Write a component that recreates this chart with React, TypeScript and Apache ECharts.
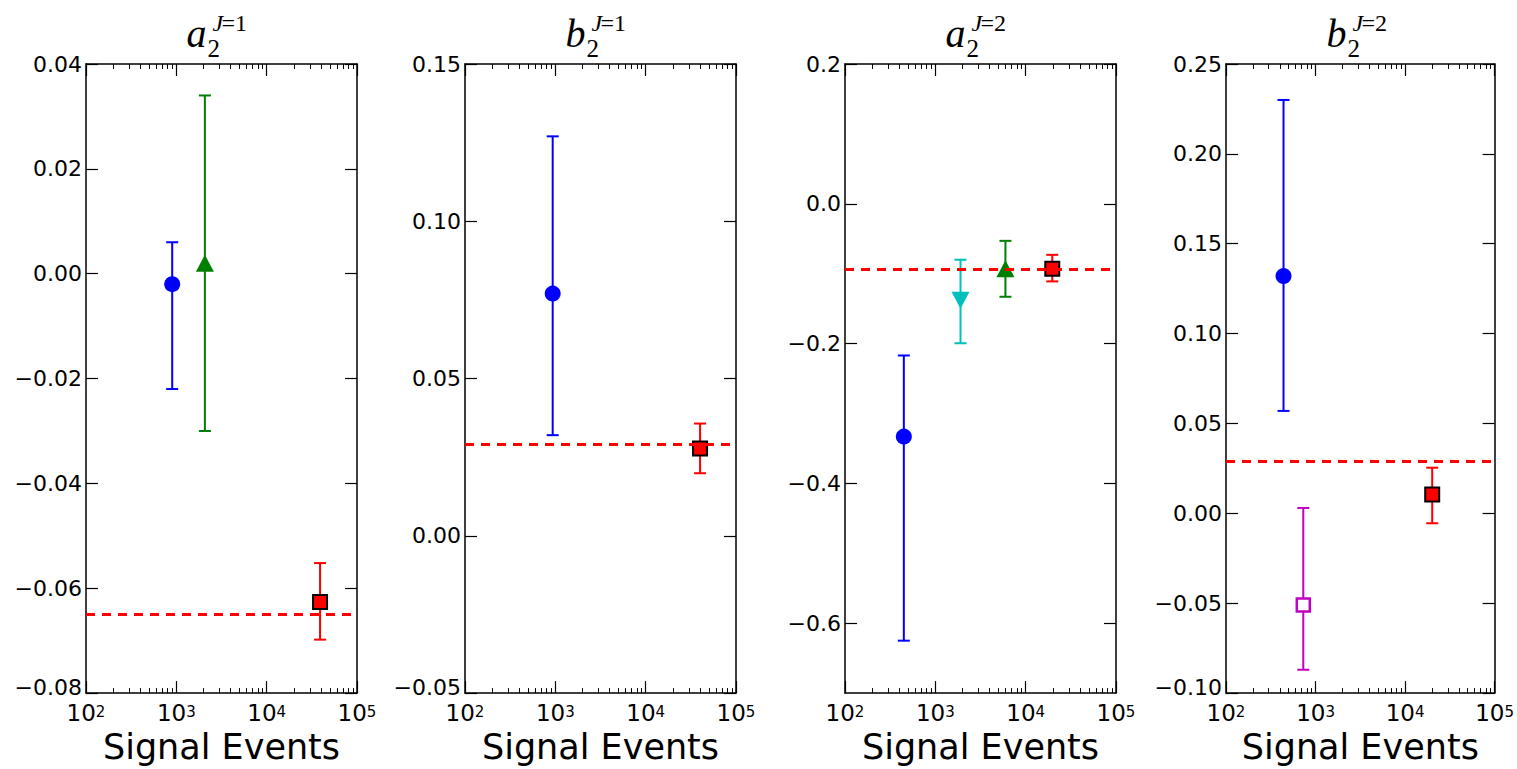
import React, { useEffect, useRef } from 'react';
import * as echarts from 'echarts';

// ---------------- data ----------------
const xMin = 100;
const xMax = 100000;

// panel 1: a2 (J=1)
const p1Events = [900, 2070, 39000];
const p1Values = [-0.002, 0.002, -0.0626];
const p1Lower = [-0.022, -0.030, -0.0698];
const p1Upper = [0.006, 0.034, -0.0552];
const p1Kinds = ['blue', 'green', 'red'];
const p1Ref = -0.065;

// panel 2: b2 (J=1)
const p2Events = [935, 40000];
const p2Values = [0.077, 0.0278];
const p2Lower = [0.032, 0.0199];
const p2Upper = [0.127, 0.0357];
const p2Kinds = ['blue', 'red'];
const p2Ref = 0.029;

// panel 3: a2 (J=2)
const p3Events = [448, 1900, 5970, 19700];
const p3Values = [-0.333, -0.138, -0.093, -0.093];
const p3Lower = [-0.625, -0.1995, -0.133, -0.111];
const p3Upper = [-0.217, -0.080, -0.053, -0.073];
const p3Kinds = ['blue', 'cyan', 'green', 'red'];
const p3Ref = -0.094;

// panel 4: b2 (J=2)
const p4Events = [439, 730, 20100];
const p4Values = [0.132, -0.051, 0.0105];
const p4Lower = [0.057, -0.087, -0.0055];
const p4Upper = [0.23, 0.003, 0.0254];
const p4Kinds = ['blue', 'magenta', 'red'];
const p4Ref = 0.029;

// axis settings
const yMins = [-0.08, -0.05, -0.7, -0.1];
const yMaxs = [0.04, 0.15, 0.2, 0.25];
const yIntervals = [0.02, 0.05, 0.2, 0.05];
const yDecimals = [2, 2, 1, 2];
const p3YTicks = [-0.6, -0.4, -0.2, 0.0, 0.2];
const titleBases = ['a', 'b', 'a', 'b'];
const titleSups = ['1', '1', '2', '2'];
const xName = 'Signal Events';

// ---------------- styles ----------------
const FONT = "'DejaVu Sans', sans-serif";
const SERIF = "'Liberation Serif', 'DejaVu Serif', serif";
const panelLefts = [86, 465, 845, 1226];
const panelWidth = 271;
const panelTop = 64;
const panelHeight = 633;

const kindStyle: Record<string, any> = {
  blue: { color: '#0000ff', symbol: 'circle', size: 16, rotate: 0, fill: '#0000ff', border: '#0000ff', bw: 0 },
  green: { color: '#008000', symbol: 'triangle', size: [18, 17], rotate: 0, fill: '#008000', border: '#008000', bw: 0 },
  red: { color: '#ff0000', symbol: 'rect', size: 14, rotate: 0, fill: '#ff0000', border: '#000000', bw: 2 },
  cyan: { color: '#00bfbf', symbol: 'triangle', size: [18, 17], rotate: 180, fill: '#00bfbf', border: '#00bfbf', bw: 0 },
  magenta: { color: '#bf00bf', symbol: 'rect', size: 13, rotate: 0, fill: '#ffffff', border: '#bf00bf', bw: 2.5 },
};

const panels = [
  { events: p1Events, values: p1Values, lower: p1Lower, upper: p1Upper, kinds: p1Kinds, ref: p1Ref },
  { events: p2Events, values: p2Values, lower: p2Lower, upper: p2Upper, kinds: p2Kinds, ref: p2Ref },
  { events: p3Events, values: p3Values, lower: p3Lower, upper: p3Upper, kinds: p3Kinds, ref: p3Ref },
  { events: p4Events, values: p4Values, lower: p4Lower, upper: p4Upper, kinds: p4Kinds, ref: p4Ref },
];

const minorLogTicks: number[] = [];
for (let n = 2; n < 5; n++) {
  for (let k = 2; k <= 9; k++) minorLogTicks.push(n + Math.log10(k));
}

const fmtY = (v: number, d: number) => {
  const s = Math.abs(v) < 1e-9 ? (0).toFixed(d) : v.toFixed(d);
  return s.replace('-', '\u2212');
};

function buildOption() {
  const grid: any[] = [];
  const xAxis: any[] = [];
  const yAxis: any[] = [];
  const series: any[] = [];
  const graphic: any[] = [];

  panels.forEach((p, i) => {
    grid.push({ left: panelLefts[i], top: panelTop, width: panelWidth, height: panelHeight, containLabel: false });

    const lineStyle = { color: '#000', width: 1.5 };
    xAxis.push({
      type: 'log', gridIndex: i, position: 'bottom', min: xMin, max: xMax, logBase: 10,
      axisLine: { show: true, onZero: false, lineStyle },
      axisTick: { show: true, inside: true, length: 12, lineStyle: { color: '#000', width: 1.2 } },
      splitLine: { show: false }, minorTick: { show: false },
      axisLabel: {
        show: true, margin: 11,
        formatter: (v: number) => `{b|10}{s|${Math.round(Math.log10(v))}}`,
        rich: {
          b: { fontSize: 23, fontFamily: FONT, color: '#000', lineHeight: 20, verticalAlign: 'bottom' },
          s: { fontSize: 15, fontFamily: FONT, color: '#000', lineHeight: 10, verticalAlign: 'top' },
        },
      },
      name: xName, nameLocation: 'middle', nameGap: 28,
      nameTextStyle: { fontSize: 35, fontFamily: FONT, color: '#000' },
    });
    xAxis.push({
      type: 'log', gridIndex: i, position: 'top', min: xMin, max: xMax, logBase: 10,
      axisLine: { show: true, onZero: false, lineStyle },
      axisTick: { show: true, inside: true, length: 12, lineStyle: { color: '#000', width: 1.2 } },
      splitLine: { show: false }, axisLabel: { show: false },
    });
    ['bottom', 'top'].forEach((pos) => {
      xAxis.push({
        type: 'value', gridIndex: i, position: pos, min: 2, max: 5,
        axisLine: { show: false, onZero: false },
        axisTick: { show: true, inside: true, length: 5, customValues: minorLogTicks, lineStyle: { color: '#000', width: 1 } },
        splitLine: { show: false }, axisLabel: { show: false },
      });
    });

    const isCustom = i === 2;
    const yLo = yMins[i];
    const leftY: any = {
      type: 'value', gridIndex: i, position: 'left', min: yMins[i], max: yMaxs[i],
      axisLine: { show: true, onZero: false, lineStyle },
      axisTick: { show: true, inside: true, length: 12, lineStyle: { color: '#000', width: 1.2 } },
      splitLine: { show: false },
      axisLabel: {
        show: true, margin: 4, fontSize: 22, lineHeight: 16, fontFamily: FONT, color: '#000',
        formatter: (v: number) => {
          const t = fmtY(v, yDecimals[i]);
          return Math.abs(v - yLo) < 1e-9 ? `{low|${t}}` : `{n|${t}}`;
        },
        rich: {
          n: { fontSize: 22, lineHeight: 16, fontFamily: FONT, color: '#000' },
          low: { fontSize: 22, lineHeight: 16, fontFamily: FONT, color: '#000', padding: [0, 0, 12, 0] },
        },
      },
    };
    const rightY: any = {
      type: 'value', gridIndex: i, position: 'right', min: yMins[i], max: yMaxs[i],
      axisLine: { show: true, onZero: false, lineStyle },
      axisTick: { show: true, inside: true, length: 12, lineStyle: { color: '#000', width: 1.2 } },
      splitLine: { show: false }, axisLabel: { show: false },
    };
    if (isCustom) {
      leftY.axisLabel.customValues = p3YTicks;
      leftY.axisTick.customValues = p3YTicks;
      rightY.axisTick.customValues = p3YTicks;
    } else {
      leftY.interval = yIntervals[i];
      rightY.interval = yIntervals[i];
    }
    yAxis.push(leftY, rightY);

    const xi = i * 4;
    const yi = i * 2;
    const kinds = p.kinds;

    series.push({
      type: 'custom', xAxisIndex: xi, yAxisIndex: yi, z: 2,
      encode: { x: 0, y: [1, 2] },
      data: p.events.map((e, j) => [e, p.lower[j], p.upper[j]]),
      renderItem: (params: any, api: any) => {
        const x = api.value(0);
        const lo = api.coord([x, api.value(1)]);
        const hi = api.coord([x, api.value(2)]);
        const c = kindStyle[kinds[params.dataIndex]].color;
        const half = 6;
        const style = { stroke: c, lineWidth: 2 };
        return {
          type: 'group',
          children: [
            { type: 'line', shape: { x1: lo[0], y1: lo[1], x2: hi[0], y2: hi[1] }, style },
            { type: 'line', shape: { x1: lo[0] - half, y1: lo[1], x2: lo[0] + half, y2: lo[1] }, style },
            { type: 'line', shape: { x1: hi[0] - half, y1: hi[1], x2: hi[0] + half, y2: hi[1] }, style },
          ],
        };
      },
      markLine: {
        silent: true, symbol: 'none', label: { show: false }, precision: 6,
        lineStyle: { color: '#ff0000', type: [9, 7], width: 3 },
        data: [{ yAxis: p.ref }],
      },
    });

    series.push({
      type: 'scatter', xAxisIndex: xi, yAxisIndex: yi, z: 3,
      data: p.events.map((e, j) => {
        const k = kindStyle[kinds[j]];
        return {
          value: [e, p.values[j]],
          symbol: k.symbol, symbolSize: k.size, symbolRotate: k.rotate,
          itemStyle: { color: k.fill, borderColor: k.border, borderWidth: k.bw, opacity: 1 },
        };
      }),
    });

    const cx = panelLefts[i] + panelWidth / 2;
    graphic.push({
      type: 'group', children: [
        { type: 'text', x: cx - 35, y: 33, style: { text: titleBases[i], font: `italic 40px ${SERIF}`, fill: '#000', verticalAlign: 'middle', align: 'left' } },
        { type: 'text', x: cx - 14, y: 48, style: { text: '2', font: `25px ${SERIF}`, fill: '#000', verticalAlign: 'middle', align: 'left' } },
        { type: 'text', x: cx - 9, y: 23, style: { text: 'J', font: `italic 24px ${SERIF}`, fill: '#000', verticalAlign: 'middle', align: 'left' } },
        { type: 'text', x: cx + 0, y: 23, style: { text: '=' + titleSups[i], font: `24px ${SERIF}`, fill: '#000', verticalAlign: 'middle', align: 'left' } },
      ],
    });
  });

  return { animation: false, backgroundColor: '#ffffff', grid, xAxis, yAxis, series, graphic };
}

export default function App() {
  const ref = useRef<HTMLDivElement>(null);
  useEffect(() => {
    if (!ref.current) return;
    const chart = echarts.init(ref.current, undefined, { renderer: 'svg' });
    chart.setOption(buildOption() as any);
    return () => chart.dispose();
  }, []);
  return <div ref={ref} style={{ position: 'absolute', left: 0, top: 0, width: 1517, height: 769 }} />;
}
